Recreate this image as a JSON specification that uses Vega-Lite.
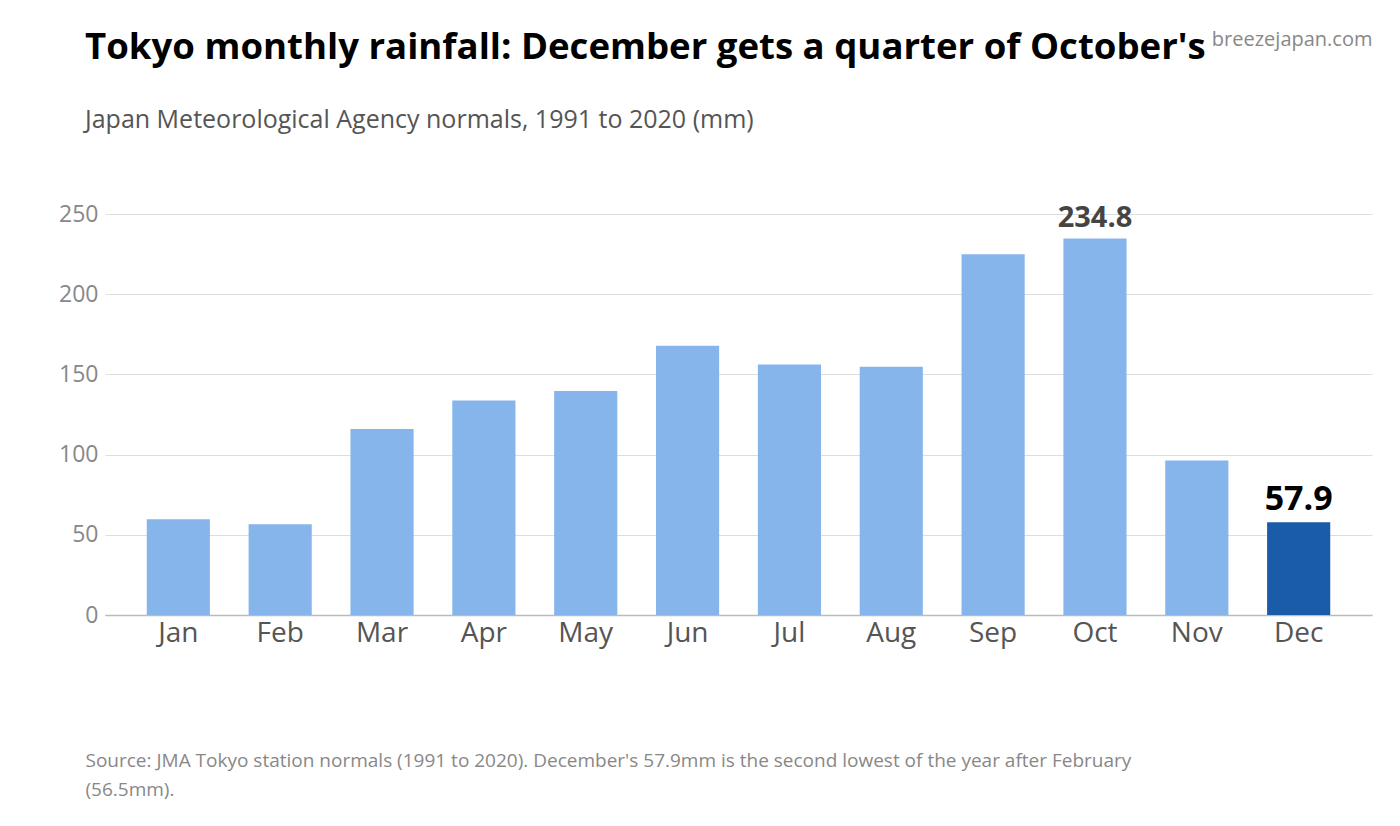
{
  "$schema": "https://vega.github.io/schema/vega-lite/v6.json",
  "width": 1267,
  "height": 401,
  "autosize": {"type": "none"},
  "padding": {"left": 105, "top": 214, "right": 28, "bottom": 211},
  "background": "white",
  "config": {
    "font": "Open Sans",
    "view": {"stroke": null}
  },
  "title": {
    "text": "Tokyo monthly rainfall: December gets a quarter of October's",
    "subtitle": "Japan Meteorological Agency normals, 1991 to 2020 (mm)",
    "anchor": "start",
    "frame": "group",
    "dx": -20,
    "dy": 104,
    "offset": 0,
    "font": "Open Sans",
    "fontSize": 36.6,
    "fontWeight": "bold",
    "color": "#000000",
    "subtitleFont": "Open Sans",
    "subtitleFontSize": 25,
    "subtitleColor": "#555555",
    "subtitlePadding": 41
  },
  "data": {
    "values": [
      {"month": "Jan", "rain": 59.7},
      {"month": "Feb", "rain": 56.5},
      {"month": "Mar", "rain": 116.0},
      {"month": "Apr", "rain": 133.7},
      {"month": "May", "rain": 139.7},
      {"month": "Jun", "rain": 167.8},
      {"month": "Jul", "rain": 156.2},
      {"month": "Aug", "rain": 154.7},
      {"month": "Sep", "rain": 224.9},
      {"month": "Oct", "rain": 234.8},
      {"month": "Nov", "rain": 96.3},
      {"month": "Dec", "rain": 57.9}
    ]
  },
  "encoding": {
    "x": {
      "field": "month",
      "type": "nominal",
      "sort": null,
      "scale": {"paddingInner": 0.38, "paddingOuter": 0.41},
      "axis": {
        "labelAngle": 0,
        "labelFontSize": 28,
        "labelColor": "#555555",
        "labelPadding": 4,
        "ticks": false,
        "domainColor": "#bbbbbb",
        "domainWidth": 1.5,
        "title": [
          "Source: JMA Tokyo station normals (1991 to 2020). December's 57.9mm is the second lowest of the year after February",
          "(56.5mm)."
        ],
        "titleAnchor": "start",
        "titleAlign": "left",
        "titleBaseline": "alphabetic",
        "titleX": -20,
        "titleY": 151,
        "titleFontSize": 19,
        "titleFontWeight": "normal",
        "titleColor": "#888888",
        "titleLineHeight": 29
      }
    },
    "y": {
      "field": "rain",
      "type": "quantitative",
      "scale": {"domain": [0, 250], "nice": false},
      "axis": {
        "values": [0, 50, 100, 150, 200, 250],
        "labelFontSize": 23,
        "labelColor": "#888888",
        "labelPadding": 7,
        "ticks": false,
        "domain": false,
        "gridColor": "#dddddd",
        "gridWidth": 1,
        "title": "breezejapan.com",
        "titleAngle": 0,
        "titleAlign": "right",
        "titleBaseline": "alphabetic",
        "titleX": 1267,
        "titleY": -169,
        "titleFontSize": 20,
        "titleFontWeight": "normal",
        "titleColor": "#888888"
      }
    }
  },
  "layer": [
    {
      "mark": {"type": "bar"},
      "encoding": {
        "color": {
          "condition": {"test": "datum.month === 'Dec'", "value": "#1b5ca8"},
          "value": "#86b5ec"
        }
      }
    },
    {
      "transform": [{"filter": "datum.month === 'Oct'"}],
      "mark": {"type": "text", "baseline": "alphabetic", "dy": -11, "fontSize": 29, "fontWeight": "bold", "color": "#444444"},
      "encoding": {"text": {"field": "rain", "type": "quantitative", "format": ".1f"}}
    },
    {
      "transform": [{"filter": "datum.month === 'Dec'"}],
      "mark": {"type": "text", "baseline": "alphabetic", "dy": -12, "fontSize": 34, "fontWeight": "bold", "color": "#000000"},
      "encoding": {"text": {"field": "rain", "type": "quantitative", "format": ".1f"}}
    }
  ]
}
